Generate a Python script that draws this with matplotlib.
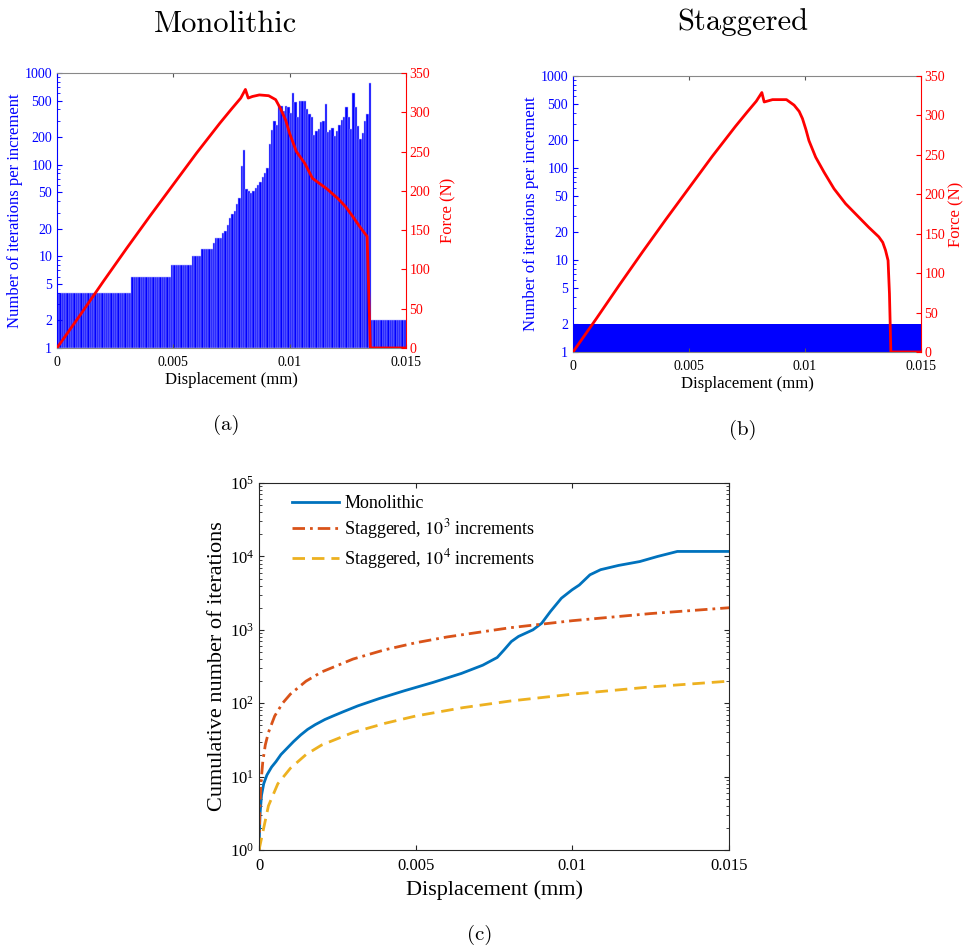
import numpy as np
import matplotlib
matplotlib.use('Agg')
import matplotlib.pyplot as plt
from matplotlib.ticker import LogLocator, NullFormatter, FixedLocator

plt.rcParams['font.family'] = 'serif'
plt.rcParams['font.serif'] = ['Liberation Serif', 'DejaVu Serif']
plt.rcParams['mathtext.fontset'] = 'stix'

# --- data -------------------------------------------------------------
mono_dx = 0.0001  # increment size (mm), monolithic
mono_iters = ([4] * 32 + [6] * 17 + [8] * 9 + [10] * 4 + [12] * 5 +
              [14, 16, 16, 16, 18, 19, 22, 26, 29, 31, 37, 43, 96, 144, 54, 52,
               49, 52, 55, 60, 65, 74, 82, 91, 168, 240, 301, 270, 447,
               440, 380, 440, 422, 363, 610, 480, 328, 495, 495, 488, 402, 360,
               328, 211, 230, 245, 290, 300, 455, 229, 240, 248, 206, 230, 271,
               307, 330, 422, 330, 245, 600, 420, 265, 190, 220, 300, 357, 771] +
              [2] * 15)

stag_n_incr = 1000
stag_iters_per_incr = 2

force_a_x = [0, 0.001, 0.002, 0.003, 0.004, 0.005, 0.006, 0.007, 0.0075, 0.0079,
             0.0081, 0.00822, 0.0084, 0.0087, 0.0091, 0.0094, 0.0096, 0.00983,
             0.0100, 0.01029, 0.01065, 0.01098, 0.01125, 0.01158, 0.01208, 0.0124,
             0.01272, 0.0130, 0.0132, 0.01333, 0.01347, 0.015]
force_a_y = [0, 42, 85, 127, 168, 208, 248, 286, 304, 318,
             329, 318, 320, 322, 321, 316, 305, 290,
             273, 250, 235, 216, 210, 203, 190, 180,
             167, 155, 147, 142, 0, 0]

force_b_x = [0, 0.001, 0.002, 0.003, 0.004, 0.005, 0.006, 0.007, 0.0075, 0.0079,
             0.00814, 0.00824, 0.0086, 0.0092, 0.00953, 0.00975, 0.00989, 0.01004,
             0.01017, 0.01046, 0.01082, 0.01125, 0.01175, 0.01225, 0.01275, 0.01318,
             0.01335, 0.01347, 0.01358, 0.01364, 0.0137, 0.015]
force_b_y = [0, 42, 85, 127, 168, 208, 248, 286, 304, 318,
             329, 317, 320, 320, 313, 305, 296, 282,
             268, 247, 228, 207, 188, 173, 158, 146,
             139, 129, 116, 74, 0, 0]

mono_cum_x = [0, 0.00003, 0.00008, 0.00015, 0.00025, 0.0004, 0.00054, 0.0007,
              0.00088, 0.0011, 0.00133, 0.00155, 0.00179, 0.0021, 0.00236, 0.0027,
              0.00315, 0.00384, 0.00464, 0.00555, 0.00646, 0.00714, 0.0076, 0.00782,
              0.00805, 0.00828, 0.00874, 0.00902, 0.0093, 0.00965, 0.00999, 0.01022,
              0.01056, 0.0109, 0.01147, 0.01215, 0.01272, 0.01335, 0.015]
mono_cum_y = [1, 3, 5.6, 8, 10.5, 13.5, 16, 20, 24, 30, 37, 44, 51, 60, 67, 77,
              92, 116, 148, 192, 255, 330, 420, 533, 692, 813, 1000, 1230, 1780,
              2700, 3510, 4080, 5620, 6600, 7540, 8520, 10000, 11700, 11700]

st3_x = [0, 0.000015, 0.00003, 0.00006, 0.00012, 0.0002, 0.0003, 0.0005, 0.00075,
         0.001, 0.0015, 0.002, 0.003, 0.004, 0.005, 0.006, 0.008, 0.01, 0.0125, 0.015]
st3_y = [1, 2, 4, 8, 16, 27, 40, 67, 100, 133, 200, 267, 400, 533, 667, 800, 1067,
         1333, 1667, 2000]

st4_x = [0, 0.00015, 0.0003, 0.0006, 0.001, 0.0015, 0.002, 0.003, 0.004, 0.005,
         0.0065, 0.008, 0.01, 0.0125, 0.015]
st4_y = [1, 2, 4, 8, 13, 20, 27, 40, 53, 67, 87, 107, 133, 167, 200]

xticks = [0, 0.005, 0.01, 0.015]
xticklabels = ['0', '0.005', '0.01', '0.015']
iter_ticks = [1, 2, 5, 10, 20, 50, 100, 200, 500, 1000]
force_ticks = [0, 50, 100, 150, 200, 250, 300, 350]

BLUE = '#0000ff'
RED = '#ff0000'

fig = plt.figure(figsize=(9.64, 9.52), dpi=100)


def iter_force_panel(rect, bar_x, bar_h, bar_w, fx, fy, edge):
    ax = fig.add_axes(rect)
    ax.bar(bar_x, np.array(bar_h) - 1, width=bar_w, bottom=1, align='edge',
           color=BLUE, edgecolor=edge, linewidth=0.35 if edge != 'none' else 0)
    ax.set_yscale('log')
    ax.set_ylim(1, 1000)
    ax.set_xlim(0, 0.015)
    ax.yaxis.set_major_locator(FixedLocator(iter_ticks))
    ax.set_yticklabels([str(t) for t in iter_ticks])
    ax.yaxis.set_minor_locator(LogLocator(subs=np.arange(2, 10)))
    ax.yaxis.set_minor_formatter(NullFormatter())
    ax.set_xticks(xticks)
    ax.set_xticklabels(xticklabels)
    ax.tick_params(axis='both', which='both', direction='in', labelsize=10)
    ax.tick_params(axis='x', top=True, colors='#555555', labelcolor='black',
                   length=3, pad=6)
    ax.tick_params(axis='y', which='both', colors=BLUE, right=False)
    ax.tick_params(axis='y', which='minor', length=2)
    ax.set_xlabel('Displacement (mm)', fontsize=12, labelpad=2)
    ax.set_ylabel('Number of iterations per increment', fontsize=12, color=BLUE, labelpad=1)
    ax.spines['left'].set_color(BLUE)
    ax.spines['right'].set_visible(False)
    ax.spines['top'].set_color('#888888')
    ax.spines['bottom'].set_color('#888888')

    ax2 = ax.twinx()
    ax2.plot(fx, fy, color=RED, lw=2)
    ax2.set_ylim(0, 350)
    ax2.set_yticks(force_ticks)
    ax2.tick_params(axis='y', direction='in', colors=RED, labelsize=10, pad=2.5)
    ax2.set_ylabel('Force (N)', fontsize=12, color=RED)
    ax2.spines['right'].set_color(RED)
    ax2.spines['left'].set_visible(False)
    ax2.spines['top'].set_visible(False)
    ax2.spines['bottom'].set_visible(False)
    return ax, ax2


# (a) monolithic
mono_x = np.arange(len(mono_iters)) * mono_dx
ax_a, ax_a2 = iter_force_panel([0.0591, 0.6345, 0.3620, 0.2889], mono_x, mono_iters,
                               mono_dx, force_a_x, force_a_y, '#b8b8ff')
ax_a2.yaxis.set_label_coords(1.1, 0.5)

# (b) staggered
stag_dx = 0.015 / stag_n_incr
stag_x = np.arange(stag_n_incr) * stag_dx
stag_iters = np.full(stag_n_incr, stag_iters_per_incr)
ax_b, ax_b2 = iter_force_panel([0.5944, 0.6303, 0.3610, 0.2899], stag_x, stag_iters,
                               stag_dx, force_b_x, force_b_y, 'none')
ax_b2.yaxis.set_label_coords(1.078, 0.5)

# (c) cumulative
axc = fig.add_axes([0.2687, 0.1071, 0.4876, 0.3855])
axc.plot(mono_cum_x, mono_cum_y, color='#0072BD', lw=2, label='Monolithic')
axc.plot(st3_x, st3_y, color='#D95319', lw=2, ls=(0, (4.5, 1.8, 1, 1.8)),
         label='Staggered, $10^3$ increments')
axc.plot(st4_x, st4_y, color='#EDB120', lw=2, ls=(0, (4.5, 2.5)),
         label='Staggered, $10^4$ increments')
axc.set_yscale('log')
axc.set_ylim(1, 1e5)
axc.set_xlim(0, 0.015)
axc.set_xticks(xticks)
axc.set_xticklabels(xticklabels)
axc.yaxis.set_minor_locator(LogLocator(subs=np.arange(2, 10)))
axc.yaxis.set_minor_formatter(NullFormatter())
axc.tick_params(axis='both', which='both', direction='in', top=True, right=True,
                labelsize=12, colors='#262626', labelcolor='black')
axc.tick_params(axis='x', pad=6)
axc.tick_params(which='minor', length=2.5)
for s in axc.spines.values():
    s.set_color('#262626')
axc.set_xlabel('Displacement (mm)', fontsize=16, labelpad=4)
axc.set_ylabel('Cumulative number of iterations', fontsize=16, labelpad=2)
axc.legend(loc='upper left', bbox_to_anchor=(0.035, 1.012), frameon=False,
           fontsize=13, handlelength=2.6, labelspacing=0.3, handletextpad=0.3)

# titles and panel letters
fig.text(0.234, 0.974, 'Monolithic', fontfamily='cmr10', fontsize=22, ha='center', va='center')
fig.text(0.770, 0.977, 'Staggered', fontfamily='cmr10', fontsize=22, ha='center', va='center')
fig.text(0.235, 0.5536, '(a)', fontfamily='cmr10', fontsize=15, ha='center', va='center')
fig.text(0.770, 0.548, '(b)', fontfamily='cmr10', fontsize=15, ha='center', va='center')
fig.text(0.498, 0.018, '(c)', fontfamily='cmr10', fontsize=15, ha='center', va='center')

fig.savefig('out.png', dpi=100)
